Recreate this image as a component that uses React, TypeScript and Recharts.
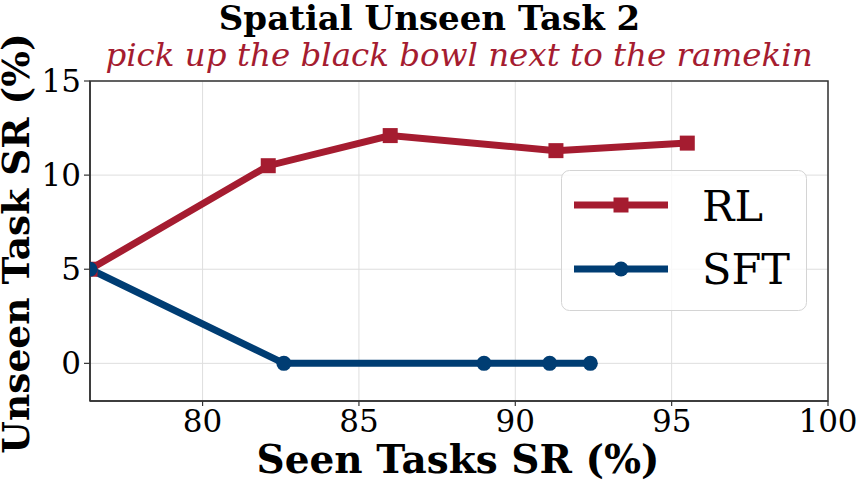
import React from 'react';
import { LineChart, Line, XAxis, YAxis, CartesianGrid, Legend, ReferenceArea } from 'recharts';

const rlSeen = [76.4, 82.1, 86.0, 91.3, 95.5];
const rlUnseen = [5.0, 10.5, 12.1, 11.3, 11.7];
const sftSeen = [76.4, 82.6, 89.0, 91.1, 92.4];
const sftUnseen = [5.0, 0, 0, 0, 0];
const xTicks = [80, 85, 90, 95, 100];
const yTicks = [0, 5, 10, 15];

const RED = '#a51c30';
const BLUE = '#003d73';
const FONT = '"DejaVu Serif", serif';

const rlData = rlSeen.map((x, i) => ({ x, y: rlUnseen[i] }));
const sftData = sftSeen.map((x, i) => ({ x, y: sftUnseen[i] }));

const SquareDot = (props: any) => {
  const { cx, cy, key } = props;
  if (cx == null || cy == null) return null;
  return <rect key={key} x={cx - 7.5} y={cy - 7.5} width={15} height={15} fill={RED} />;
};

const LegendBox = () => (
  <svg width={246} height={141} style={{ display: 'block' }}>
    <rect x={0.5} y={0.5} width={245} height={140} rx={8} fill="rgba(255,255,255,0.8)" stroke="#d4d4d4" />
    <line x1={13} x2={107} y1={35} y2={35} stroke={RED} strokeWidth={7} />
    <rect x={52.5} y={27.5} width={15} height={15} fill={RED} />
    <text x={141} y={50.5} fontSize={43} fontFamily={FONT} fill="#000">RL</text>
    <line x1={13} x2={107} y1={99} y2={99} stroke={BLUE} strokeWidth={7} />
    <circle cx={60} cy={99} r={7.5} fill={BLUE} />
    <text x={141} y={114} fontSize={43} fontFamily={FONT} fill="#000">SFT</text>
  </svg>
);

export default function App() {
  return (
    <div style={{ position: 'absolute', left: 0, top: 0, width: 859, height: 484, background: '#fff', fontFamily: FONT }}>
      <LineChart width={859} height={484} margin={{ top: 81, right: 31, bottom: 0, left: 0 }}>
        <CartesianGrid stroke="#dedede" strokeWidth={1} />
        <XAxis
          type="number"
          dataKey="x"
          domain={[76.4, 100]}
          ticks={xTicks}
          allowDataOverflow
          height={83}
          tick={{ fill: '#000', fontSize: 31, fontFamily: FONT }}
          tickSize={5}
          tickMargin={4}
          axisLine={{ stroke: '#333', strokeWidth: 1.5 }}
          tickLine={{ stroke: '#333', strokeWidth: 1.2 }}
        />
        <YAxis
          type="number"
          dataKey="y"
          domain={[-2, 15]}
          ticks={yTicks}
          allowDataOverflow
          width={90}
          tick={{ fill: '#000', fontSize: 31, fontFamily: FONT }}
          tickSize={6}
          tickMargin={3}
          axisLine={{ stroke: '#333', strokeWidth: 1.5 }}
          tickLine={{ stroke: '#333', strokeWidth: 1.2 }}
        />
        <ReferenceArea x1={76.4} x2={100} y1={-2} y2={15} fill="none" stroke="#333" strokeWidth={1.5} ifOverflow="visible" />
        <Line
          data={rlData}
          dataKey="y"
          name="RL"
          stroke={RED}
          strokeWidth={7}
          dot={SquareDot}
          activeDot={false}
          isAnimationActive={false}
        />
        <Line
          data={sftData}
          dataKey="y"
          name="SFT"
          stroke={BLUE}
          strokeWidth={7}
          dot={{ r: 7.5, fill: BLUE, stroke: BLUE, strokeWidth: 0 }}
          activeDot={false}
          isAnimationActive={false}
        />
        <Legend
          layout="vertical"
          align="center"
          verticalAlign="middle"
          content={() => <LegendBox />}
          wrapperStyle={{ position: 'absolute', left: 561, top: 170, width: 246, height: 141 }}
        />
      </LineChart>
      <svg width={859} height={484} style={{ position: 'absolute', left: 0, top: 0, pointerEvents: 'none' }}>
        <text x={429.5} y={29.5} textAnchor="middle" fontSize={34} fontWeight="bold" fontFamily={FONT} fill="#000">
          Spatial Unseen Task 2
        </text>
        <text x={459} y={66} textAnchor="middle" fontSize={32.5} fontStyle="italic" fontFamily={FONT} fill={RED}>
          pick up the black bowl next to the ramekin
        </text>
        <text x={458} y={473} textAnchor="middle" fontSize={39} fontWeight="bold" fontFamily={FONT} fill="#000">
          Seen Tasks SR (%)
        </text>
        <text x={29} y={243.5} textAnchor="middle" fontSize={37.5} fontWeight="bold" fontFamily={FONT} fill="#000" transform="rotate(-90 29 243.5)">
          Unseen Task SR (%)
        </text>
      </svg>
    </div>
  );
}
